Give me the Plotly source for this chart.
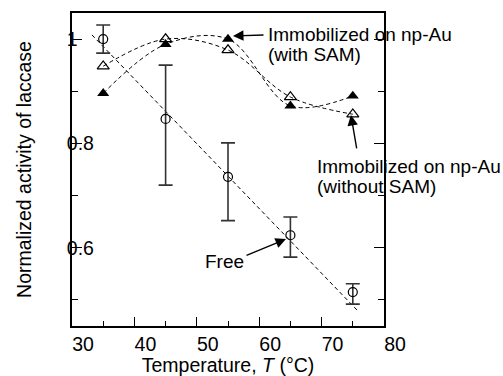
import plotly.graph_objects as go

# ---- data ----
temps = [35, 45, 55, 65, 75]
free_act = [1.0, 0.847, 0.736, 0.624, 0.515]
free_err_plus = [0.027, 0.103, 0.065, 0.035, 0.016]
free_err_minus = [0.027, 0.127, 0.084, 0.042, 0.023]
with_sam = [0.896, 0.99, 1.0, 0.872, 0.891]
without_sam = [0.948, 1.0, 0.979, 0.889, 0.856]
free_fit_x = [33.2, 75.8]
free_fit_y = [1.008, 0.479]

x_tick_vals = [30, 40, 50, 60, 70, 80]
x_tick_text = ["30", "40", "50", "60", "70", "80"]
y_tick_vals = [0.6, 0.8, 1.0]
y_tick_text = ["0.6", "0.8", "1"]

FONT = "Liberation Sans, Arial, sans-serif"
FS = 19.5
FS_ANN = 19
DASH = "4px,3px"

fig = go.Figure()

# dashed guide curves
fig.add_trace(go.Scatter(x=free_fit_x, y=free_fit_y, mode="lines",
                         line=dict(color="black", width=1, dash=DASH),
                         hoverinfo="skip", showlegend=False))
fig.add_trace(go.Scatter(x=temps, y=with_sam, mode="lines",
                         line=dict(color="black", width=1, dash=DASH,
                                   shape="spline", smoothing=1.0),
                         hoverinfo="skip", showlegend=False))
fig.add_trace(go.Scatter(x=temps, y=without_sam, mode="lines",
                         line=dict(color="black", width=1, dash=DASH,
                                   shape="spline", smoothing=1.0),
                         hoverinfo="skip", showlegend=False))

# markers
fig.add_trace(go.Scatter(x=temps, y=free_act, mode="markers", name="Free",
                         marker=dict(symbol="circle-open", size=9,
                                     color="black", line=dict(width=1.2)),
                         error_y=dict(type="data", array=free_err_plus,
                                      arrayminus=free_err_minus, symmetric=False,
                                      color="#333", thickness=1.6, width=7),
                         showlegend=False))
fig.add_trace(go.Scatter(x=temps, y=without_sam, mode="markers",
                         name="without SAM",
                         marker=dict(symbol="triangle-up-open", size=10.5,
                                     color="black", line=dict(width=1.2)),
                         showlegend=False))
fig.add_trace(go.Scatter(x=temps, y=with_sam, mode="markers",
                         name="with SAM",
                         marker=dict(symbol="triangle-up", size=10.5,
                                     color="black", line=dict(width=0)),
                         showlegend=False))

tickfont = dict(family=FONT, size=FS, color="black")

fig.update_layout(
    width=503, height=376,
    margin=dict(l=72, r=119, t=13, b=50),
    paper_bgcolor="white", plot_bgcolor="white",
    font=dict(family=FONT, size=FS, color="black"),
    showlegend=False,
    xaxis=dict(
        range=[30, 80], showgrid=False, zeroline=False,
        showline=True, linecolor="black", linewidth=1.5, mirror=True,
        tickmode="array", tickvals=x_tick_vals, ticktext=x_tick_text,
        ticks="inside", ticklen=9, tickwidth=1.3, tickcolor="black",
        minor=dict(tick0=30, dtick=5, ticks="inside", ticklen=5,
                   tickwidth=1.3, tickcolor="black"),
        ticklabelshift=11, ticklabeloverflow="allow", tickfont=tickfont,
        title=dict(text="Temperature, <i>T</i> (°C)", standoff=4,
                   font=dict(family=FONT, size=FS, color="black")),
        automargin=False,
    ),
    xaxis2=dict(
        range=[30, 80], overlaying="x", side="top", anchor="y",
        showgrid=False, zeroline=False, showline=False,
        tick0=30, dtick=5, ticks="inside", ticklen=9, tickwidth=1.3,
        tickcolor="black", showticklabels=False,
    ),
    yaxis=dict(
        range=[0.45, 1.05], showgrid=False, zeroline=False,
        showline=True, linecolor="black", linewidth=1.5, mirror="ticks",
        tickmode="array", tickvals=y_tick_vals, ticktext=y_tick_text,
        ticks="inside", ticklen=10, tickwidth=1.3, tickcolor="black",
        minor=dict(tick0=0.5, dtick=0.1, ticks="inside", ticklen=6,
                   tickwidth=1.3, tickcolor="black"),
        ticklabelposition="inside", ticklabelstandoff=-14,
        ticklabeloverflow="allow", tickfont=tickfont,
        title=dict(text="Normalized activity of laccase", standoff=30,
                   font=dict(family=FONT, size=FS, color="black")),
        automargin=False,
    ),
)

arrow_common = dict(showarrow=True, arrowhead=2, arrowsize=1.5,
                    arrowwidth=1.4, arrowcolor="black", text="",
                    xref="x", yref="y")
# arrows
fig.add_annotation(x=55.8, y=1.006, ax=32, ay=-1, **arrow_common)
fig.add_annotation(x=74.7, y=0.8545, ax=6, ay=35, **arrow_common)
fig.add_annotation(x=64.3, y=0.6168, ax=-41, ay=17, **arrow_common)

text_common = dict(showarrow=False, xref="x", yref="y", xanchor="left",
                   yanchor="middle",
                   font=dict(family=FONT, size=FS_ANN, color="black"))
fig.add_annotation(x=61.1, y=1.0097, text="Immobilized on np-Au", **text_common)
fig.add_annotation(x=61.1, y=0.9714, text="(with SAM)", **text_common)
fig.add_annotation(x=68.9, y=0.7567, text="Immobilized on np-Au", **text_common)
fig.add_annotation(x=68.9, y=0.7165, text="(without SAM)", **text_common)
fig.add_annotation(x=51.0, y=0.5727, text="Free", **text_common)

fig.write_html("out.html", config={"displayModeBar": False},
               post_script="document.body.style.margin='0';document.body.style.padding='0';")
